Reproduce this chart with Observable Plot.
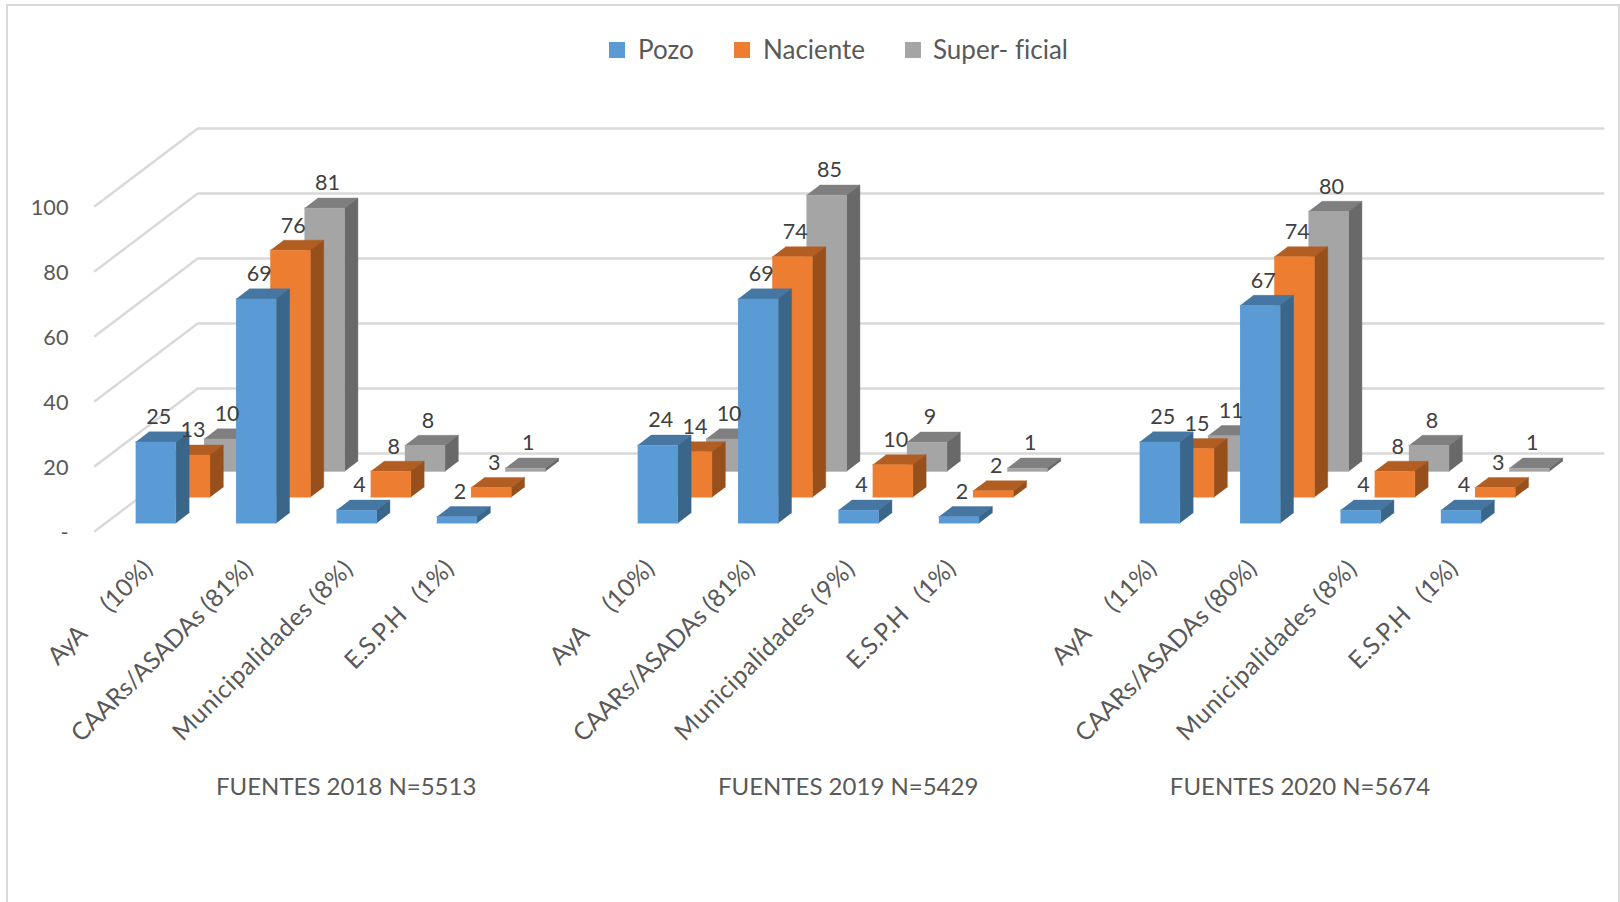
<!DOCTYPE html>
<html><head><meta charset="utf-8">
<script src="https://cdn.jsdelivr.net/npm/d3@7"></script>
<script src="https://cdn.jsdelivr.net/npm/@observablehq/plot@0.6"></script>
<style>
html,body{margin:0;padding:0;background:#fff;overflow:hidden;width:1620px;height:902px}
#frame{position:absolute;left:6px;top:4px;width:1610px;height:920px;border:2px solid #d9d9d9}
#legend{position:absolute;left:609px;top:29px;height:40px;font:26px Lato,sans-serif;color:#595959;font-variant-ligatures:none}
#legend span{position:absolute;top:0;white-space:pre;line-height:40px}
#legend i{position:absolute;top:13px;width:16px;height:16px}
#chart{position:absolute;left:0;top:70px}
.muni text{letter-spacing:0.75px}
</style></head><body>
<div id="frame"></div>
<div id="legend"></div>
<div id="chart"></div>
<script>
const seriesNames = ["Pozo", "Naciente", "Super- ficial"];
const groupTitles = ["FUENTES 2018 N=5513", "FUENTES 2019 N=5429", "FUENTES 2020 N=5674"];
const nb = "\u00a0";
const categories2018 = [`AyA${nb.repeat(5)}(10%)`, "CAARs/ASADAs (81%)", "Municipalidades (8%)", `E.S.P.H${nb.repeat(3)}(1%)`];
const categories2019 = [`AyA${nb.repeat(5)}(10%)`, "CAARs/ASADAs (81%)", "Municipalidades (9%)", `E.S.P.H${nb.repeat(3)}(1%)`];
const categories2020 = [`AyA${nb.repeat(5)}(11%)`, "CAARs/ASADAs (80%)", "Municipalidades (8%)", `E.S.P.H${nb.repeat(3)}(1%)`];
const pozo = [25, 69, 4, 2, 24, 69, 4, 2, 25, 67, 4, 4];
const naciente = [13, 76, 8, 3, 14, 74, 10, 2, 15, 74, 8, 3];
const superficial = [10, 81, 8, 1, 10, 85, 9, 1, 11, 80, 8, 1];
const yTicks = [0, 20, 40, 60, 80, 100];
const frontColors = ["#5B9BD5", "#ED7D31", "#A5A5A5"];
const sideColors = ["#3A6689", "#97501C", "#696969"];
const topColors = ["#4676A2", "#B25E22", "#7F7F7F"];

// oblique projection: one depth slot, expressed in x (category) and y (value) units
const depthX = 0.3406, depthY = 7.97;
const barW = 0.4, barD = 0.39, inset = (1 - barD) / 2, gapX = (1 - barW) / 2;
const px = (u, d) => u + d * depthX;
const py = (v, d) => v + d * depthY;

const series = [pozo, naciente, superficial];
const categories = [...categories2018, "", ...categories2019, "", ...categories2020];
const slotOf = i => i + Math.floor(i / 4);

const faces = [];
const labels = [];
[2, 1, 0].forEach(s => {
  series[s].forEach((v, i) => {
    const u0 = slotOf(i) + gapX, u1 = u0 + barW;
    const d0 = s + inset, d1 = d0 + barD;
    const poly = (name, color, pts) => pts.forEach(([u, val, d]) =>
      faces.push({id: `${s}-${i}-${name}`, color, x: px(u, d), y: py(val, d)}));
    poly("top", topColors[s], [[u0, v, d0], [u1, v, d0], [u1, v, d1], [u0, v, d1]]);
    poly("side", sideColors[s], [[u1, 0, d0], [u1, v, d0], [u1, v, d1], [u1, 0, d1]]);
    poly("front", frontColors[s], [[u0, 0, d0], [u1, 0, d0], [u1, v, d0], [u0, v, d0]]);
    labels.push({x: px((u0 + u1) / 2, d0), y: py(v, d0), text: String(v)});
  });
});

const grid = yTicks.flatMap(v => [
  {v, x: px(0, 0), y: py(v, 0)},
  {v, x: px(0, 3), y: py(v, 3)},
  {v, x: px(14, 3), y: py(v, 3)}
]);

const catLabels = categories.map((text, k) => ({text, x: k + 0.5})).filter(d => d.text);
const isMuni = d => d.text.startsWith("Muni");
const titleShift = [-0.01, -0.01, -0.51];
const titles = groupTitles.map((text, g) => ({text, x: px(5 * g + 2 + titleShift[g], 1.5)}));
const catStyle = {x: "x", y: () => 0, text: "text", rotate: -45, textAnchor: "end", lineAnchor: "middle", dx: 3, dy: 33.5, fontSize: 24.6, fill: "#595959"};

const chart = Plot.plot({
  width: 1620, height: 832,
  marginLeft: 68, marginRight: 0, marginTop: 0, marginBottom: 0,
  style: {fontFamily: "Lato, sans-serif", background: "transparent"},
  x: {domain: [0, 15], range: [94.6, 1600.6], axis: null},
  y: {domain: [0, 100], range: [460.6, 135.6], axis: null},
  marks: [
    Plot.line(grid, {x: "x", y: "y", z: "v", stroke: "#d9d9d9", strokeWidth: 2.5, curve: "linear"}),
    Plot.axisY(yTicks, {
      anchor: "left", tickSize: 0, tickPadding: 0, label: null, dy: 1.7,
      tickFormat: d => d === 0 ? "-" : d, fontSize: 21.7, fill: "#595959"
    }),
    Plot.line(faces, {x: "x", y: "y", z: "id", fill: "color", stroke: "color", strokeWidth: 0.4, curve: "linear"}),
    Plot.text(labels, {x: "x", y: "y", text: "text", dx: 3, dy: -24.6, lineAnchor: "middle", fontSize: 21.5, fill: "#404040"}),
    Plot.text(catLabels.filter(d => !isMuni(d)), catStyle),
    Plot.text(catLabels.filter(isMuni), {...catStyle, className: "muni"}),
    Plot.text(titles, {x: "x", y: () => 0, text: "text", lineAnchor: "middle", dy: 256.2, fontSize: 24, fill: "#595959"})
  ]
});
document.getElementById("chart").append(chart);

const legendEl = document.getElementById("legend");
const legendOffsets = [[0, 29], [125, 154], [296, 324]];
seriesNames.forEach((name, k) => {
  const sw = document.createElement("i");
  sw.style.left = legendOffsets[k][0] + "px";
  sw.style.background = frontColors[k];
  const t = document.createElement("span");
  t.style.left = legendOffsets[k][1] + "px";
  t.textContent = name;
  legendEl.append(sw, t);
});
</script>
</body></html>
